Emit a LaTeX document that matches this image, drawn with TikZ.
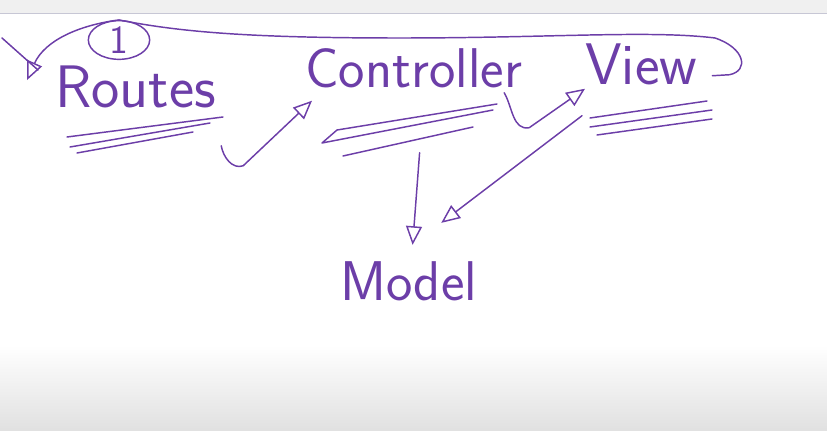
\documentclass[tikz,border=0pt]{standalone}
\usetikzlibrary{arrows.meta,shapes.geometric}
\definecolor{ink}{RGB}{108,62,168}
\begin{document}
\begin{tikzpicture}[x=0.75pt,y=-0.75pt]
\tikzset{pen/.style={draw=ink,line width=1.1pt,line cap=round,line join=round},
  headed/.style={pen,-{Triangle[open,length=14pt,width=12pt]}},
  word/.style={text=ink,inner sep=0pt,anchor=base west,font=\sffamily\fontsize{42}{50}\selectfont}}
\useasboundingbox (0,0) rectangle (827,431);
\fill[black!6] (0,0) rectangle (827,13);
\draw[blue!25!black!22,line width=0.8pt] (0,13.5) -- (827,13.5);
\shade[top color=white,bottom color=black!12] (0,345) rectangle (827,431);
\node[word,font=\sffamily\fontsize{45}{54}\selectfont] (routes) at (55,108) {Routes};
\node[word] (controller) at (305,88) {Controller};
\node[word,font=\sffamily\fontsize{44}{52}\selectfont] (view) at (585,85) {View};
\node[word] (model) at (340,300) {Model};
\node[pen,ellipse,text=ink,inner sep=0pt,minimum width=46pt,minimum height=29pt,
  font=\sffamily\fontsize{30}{34}\selectfont] (one) at (119,40) {1};
\draw[pen] (67,137) -- (223,117) (70,147) -- (210,123) (77,153) -- (193,132);
\draw[pen] (497,104) -- (337,130) -- (322,143) -- (493,110) (343,156) -- (473,127);
\draw[pen] (590,118) -- (707,101) (590,127) -- (712,110) (597,135) -- (712,119);
\draw[headed] ([shift={(5,37)}]routes.south east) to[out=-80,in=200] ++(22,20)
  -- ([shift={(7,12)}]controller.south west);
\draw[headed] ([shift={(-18,4)}]controller.south east) to[out=-60,in=190] ++(25,35)
  -- ([shift={(0,3)}]view.south west);
\draw[headed] ([shift={(6,64)}]controller.south) -- ([shift={(4,-16)}]model.north);
\draw[headed] ([shift={(-3,30)}]view.south west) -- ([shift={(-36,-38)}]model.north east);
\draw[headed] ([shift={(15,-10)}]view.south east) -- ++(17,-1)
  .. controls +(20,-4) and +(30,10) .. (715,38)
  .. controls (650,30) and (550,38) .. (400,38)
  .. controls (250,38) and (180,32) .. (one.north)
  .. controls (80,25) and (45,40) .. ([shift={(-28,14)}]routes.north west);
\draw[pen] (2,38) -- (38,70);
\end{tikzpicture}
\end{document}
